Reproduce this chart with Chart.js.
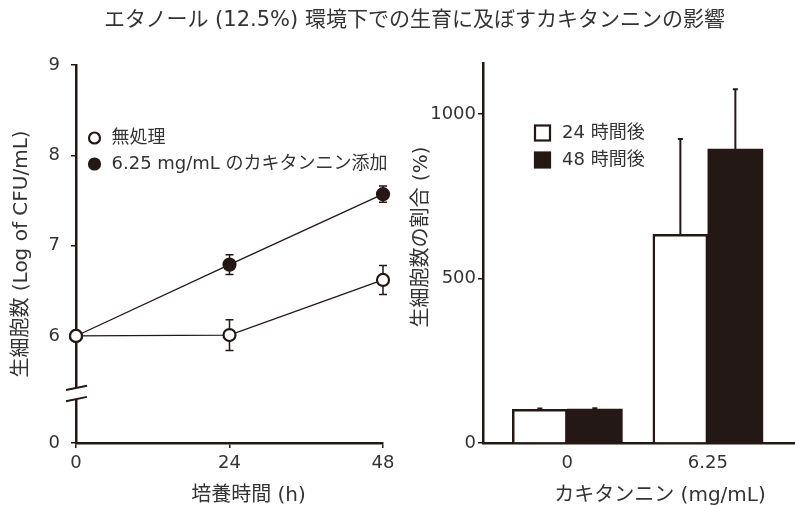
<!DOCTYPE html>
<html lang="ja">
<head>
<meta charset="utf-8">
<title>カキタンニンの影響</title>
<script src="https://cdn.jsdelivr.net/npm/chart.js@4.4.1/dist/chart.umd.min.js"></script>
<style>
  html, body { margin: 0; padding: 0; background: #fff; overflow: hidden; }
  #wrap { position: relative; width: 795px; height: 506px; }
  #title { position: absolute; left: 0; top: 6px; width: 829px; text-align: center; font: 21px/26px 'DejaVu Sans', 'Noto Sans CJK JP', sans-serif; color: #333; white-space: nowrap; }
  #left { position: absolute; left: 0; top: 0; }
  #right { position: absolute; left: 400px; top: 0; }
</style>
</head>
<body>
<div id="wrap">
  <canvas id="left" width="400" height="506"></canvas>
  <canvas id="right" width="395" height="506"></canvas>
  <div id="title">エタノール (12.5%) 環境下での生育に及ぼすカキタンニンの影響</div>
</div>
<script>
// left: log CFU over time
var hours = [0, 24, 48];
var untreated = [6.0, 6.01, 6.62];
var untreatedErr = [0, 0.17, 0.16];
var tannin = [6.0, 6.79, 7.57];
var tanninErr = [0, 0.11, 0.09];
var leftTicks = [0, 6, 7, 8, 9];

// right: viable cell ratio
var doses = ["0", "6.25"];
var after24 = [102, 634];
var after24Err = [3, 290];
var after48 = [103, 893];
var after48Err = [3, 182];
var rightTicks = [0, 500, 1000];

var FONT = "'DejaVu Sans', 'Noto Sans CJK JP', sans-serif";
var INK = "#231815";
var TEXT = "#333";

// broken y axis: "0" sits at this value, break marks between breakLo and breakHi
var yZero = 4.815;
var breakHi = 5.424;
var breakLo = 5.30;

Chart.defaults.font.family = FONT;
Chart.defaults.color = TEXT;

var errorBars = {
  id: "errorBars",
  beforeDatasetsDraw: function (chart, args, opts) {
    var ctx = chart.ctx;
    var ys = chart.scales.y;
    ctx.save();
    ctx.strokeStyle = INK;
    ctx.lineWidth = opts.width;
    chart.data.datasets.forEach(function (ds, i) {
      if (!ds.errors) return;
      var meta = chart.getDatasetMeta(i);
      meta.data.forEach(function (el, j) {
        var e = ds.errors[j];
        if (!e) return;
        var v = typeof ds.data[j] === "object" ? ds.data[j].y : ds.data[j];
        var x = el.x;
        var top = ys.getPixelForValue(v + e);
        var bot = ys.getPixelForValue(opts.upOnly ? v : v - e);
        ctx.beginPath();
        ctx.moveTo(x, top);
        ctx.lineTo(x, bot);
        ctx.moveTo(x - opts.cap, top);
        ctx.lineTo(x + opts.cap, top);
        if (!opts.upOnly) {
          ctx.moveTo(x - opts.cap, bot);
          ctx.lineTo(x + opts.cap, bot);
        }
        ctx.stroke();
      });
    });
    ctx.restore();
  }
};

var inlineLegend = {
  id: "inlineLegend",
  afterDraw: function (chart, args, opts) {
    var ctx = chart.ctx;
    var a = chart.chartArea;
    ctx.save();
    ctx.font = opts.size + "px " + FONT;
    ctx.textBaseline = "middle";
    chart.data.datasets.forEach(function (ds, i) {
      var x = a.left + opts.dx;
      var y = a.top + opts.dy + i * opts.gap;
      ctx.lineWidth = opts.lineWidth;
      ctx.strokeStyle = INK;
      ctx.fillStyle = ds.pointBackgroundColor || ds.backgroundColor;
      if (opts.shape === "circle") {
        ctx.beginPath();
        ctx.arc(x, y, opts.r, 0, Math.PI * 2);
        ctx.fill();
        ctx.stroke();
      } else {
        ctx.fillRect(x - opts.r, y - opts.r, opts.r * 2, opts.r * 2);
        ctx.strokeRect(x - opts.r, y - opts.r, opts.r * 2, opts.r * 2);
      }
      ctx.fillStyle = TEXT;
      ctx.fillText(ds.label, x + opts.textDx, y);
    });
    ctx.restore();
  }
};

var axisTitles = {
  id: "axisTitles",
  afterDraw: function (chart, args, opts) {
    var ctx = chart.ctx;
    var a = chart.chartArea;
    ctx.save();
    ctx.font = "20px " + FONT;
    ctx.fillStyle = TEXT;
    ctx.textAlign = "center";
    ctx.textBaseline = "middle";
    ctx.fillText(opts.x, (a.left + a.right) / 2 + opts.xShift, a.bottom + 53);
    ctx.translate(22, (a.top + a.bottom) / 2 + opts.yShift);
    ctx.rotate(-Math.PI / 2);
    ctx.fillText(opts.y, 0, 0);
    ctx.restore();
  }
};

var axisBreak = {
  id: "axisBreak",
  afterDraw: function (chart) {
    var ctx = chart.ctx;
    var ys = chart.scales.y;
    var x0 = chart.chartArea.left;
    var y1 = ys.getPixelForValue(breakHi);
    var y2 = ys.getPixelForValue(breakLo);
    ctx.save();
    ctx.fillStyle = "#fff";
    ctx.fillRect(x0 - 3, y1, 6, y2 - y1);
    ctx.strokeStyle = INK;
    ctx.lineWidth = 2;
    [y1, y2].forEach(function (y) {
      ctx.beginPath();
      ctx.moveTo(x0 - 10, y + 2);
      ctx.lineTo(x0 + 11, y - 2.3);
      ctx.stroke();
    });
    ctx.restore();
  }
};

function tickFont() {
  return { family: FONT, size: 18 };
}

new Chart(document.getElementById("left"), {
  type: "line",
  data: {
    labels: hours,
    datasets: [
      {
        label: "無処理",
        data: untreated,
        errors: untreatedErr,
        borderColor: INK,
        borderWidth: 1.3,
        pointRadius: 6,
        pointBorderWidth: 2.2,
        pointBorderColor: INK,
        pointBackgroundColor: "#fff",
        tension: 0,
        clip: false
      },
      {
        label: "6.25 mg/mL のカキタンニン添加",
        data: tannin,
        errors: tanninErr,
        borderColor: INK,
        borderWidth: 1.3,
        pointRadius: 6,
        pointBorderWidth: 2.2,
        pointBorderColor: INK,
        pointBackgroundColor: INK,
        tension: 0,
        clip: false
      }
    ]
  },
  options: {
    responsive: false,
    animation: false,
    layout: { padding: { top: 65, right: 17, bottom: 0, left: 0 } },
    plugins: {
      legend: { display: false },
      tooltip: { enabled: false },
      errorBars: { width: 1.5, cap: 4, upOnly: false },
      inlineLegend: { shape: "circle", dx: 18.5, dy: 73, gap: 26, r: 5.5, lineWidth: 2.2, textDx: 17, size: 18 },
      axisTitles: { x: "培養時間 (h)", y: "生細胞数 (Log of CFU/mL)", xShift: 19, yShift: 0 }
    },
    scales: {
      x: {
        type: "linear",
        min: 0,
        max: 48,
        afterBuildTicks: function (s) {
          s.ticks = hours.map(function (h) { return { value: h }; });
        },
        afterFit: function (s) { s.height = 63; },
        grid: { drawOnChartArea: false, color: INK, lineWidth: 1.5, tickLength: 5 },
        border: { color: INK, width: 2.5 },
        ticks: { font: tickFont(), color: TEXT, padding: 5, maxRotation: 0 }
      },
      y: {
        min: yZero,
        max: 9,
        afterBuildTicks: function (s) {
          s.ticks = leftTicks.map(function (v) { return { value: v === 0 ? yZero : v }; });
        },
        afterFit: function (s) { s.width = 76; },
        grid: { drawOnChartArea: false, color: INK, lineWidth: 1.5, tickLength: 5 },
        border: { color: INK, width: 2.5 },
        ticks: {
          font: tickFont(),
          color: TEXT,
          padding: 11,
          callback: function (v, i) { return String(leftTicks[i]); }
        }
      }
    }
  },
  plugins: [errorBars, inlineLegend, axisTitles, axisBreak]
});

new Chart(document.getElementById("right"), {
  type: "bar",
  data: {
    datasets: [
      {
        label: "24 時間後",
        data: after24.map(function (v, i) { return { x: i, y: v }; }),
        errors: after24Err,
        backgroundColor: "#fff",
        borderColor: INK,
        borderWidth: 2.5,
        barThickness: 55
      },
      {
        label: "48 時間後",
        data: after48.map(function (v, i) { return { x: i, y: v }; }),
        errors: after48Err,
        backgroundColor: INK,
        borderColor: INK,
        borderWidth: 0,
        barThickness: 55
      }
    ]
  },
  options: {
    responsive: false,
    animation: false,
    layout: { padding: { top: 63, right: 0, bottom: 0, left: 0 } },
    plugins: {
      legend: { display: false },
      tooltip: { enabled: false },
      errorBars: { width: 2, cap: 2.5, upOnly: true },
      inlineLegend: { shape: "square", dx: 59.5, dy: 70, gap: 27, r: 7.5, lineWidth: 2.2, textDx: 19.5, size: 18 },
      axisTitles: { x: "カキタンニン (mg/mL)", y: "生細胞数の割合 (%)", xShift: 21, yShift: -16 }
    },
    scales: {
      x: {
        type: "linear",
        min: -0.6,
        max: 1.62,
        offset: false,
        afterBuildTicks: function (s) {
          s.ticks = doses.map(function (d, i) { return { value: i }; });
        },
        afterFit: function (s) { s.height = 63; },
        grid: { drawOnChartArea: false, drawTicks: false, offset: false },
        border: { color: INK, width: 2.5 },
        ticks: {
          font: tickFont(),
          color: TEXT,
          padding: 10,
          maxRotation: 0,
          callback: function (v, i) { return doses[i]; }
        }
      },
      y: {
        min: 0,
        max: 1155,
        afterBuildTicks: function (s) {
          s.ticks = rightTicks.map(function (v) { return { value: v }; });
        },
        afterFit: function (s) { s.width = 83; },
        grid: { drawOnChartArea: false, color: INK, lineWidth: 1.5, tickLength: 5 },
        border: { color: INK, width: 2.5 },
        ticks: {
          font: tickFont(),
          color: TEXT,
          padding: 2,
          callback: function (v, i) { return String(rightTicks[i]); }
        }
      }
    }
  },
  plugins: [errorBars, inlineLegend, axisTitles]
});
</script>
</body>
</html>
